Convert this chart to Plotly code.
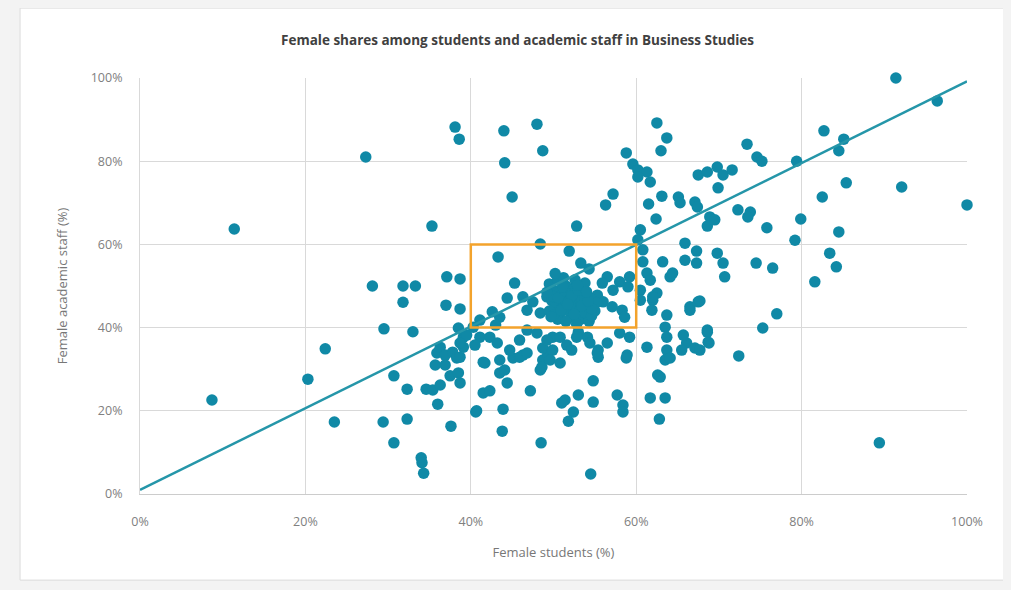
import plotly.graph_objects as go

# Female students (%) and Female academic staff (%) per institution
students = [
    8.7, 11.4, 20.3, 22.4, 23.5, 27.3, 28.1, 29.5, 29.4, 30.7, 30.7, 31.8, 31.8, 32.3, 32.3, 33.3, 33.0, 34.0, 34.1, 34.3, 34.6, 35.3,
    35.7, 35.4, 35.9, 36.3, 36.9, 36.3, 36.0, 37.6, 37.1, 38.7, 37.0, 38.7, 38.5, 39.1, 39.1, 37.8, 38.3, 37.5, 38.5, 38.7, 38.7, 38.1, 38.6, 39.5, 38.7, 36.9,
    44.0, 48.0, 48.7, 44.1, 45.0, 52.8, 43.3, 48.4, 45.3, 44.4, 46.3, 46.8, 47.5, 48.4, 49.2, 42.6, 43.5, 41.1, 42.3, 43.2, 45.9, 46.8, 48.0,
    41.7, 41.5, 42.3, 40.6, 43.9, 43.8, 47.2, 48.5, 43.5, 44.4, 45.1, 46.3, 48.4, 48.7, 41.5, 43.5, 44.1, 44.7, 45.9, 46.8, 48.6, 49.3, 48.7,
    40.7, 40.5, 40.3, 41.1, 43.0,
    49.9, 50.8, 51.6, 52.2, 53.0, 54.1, 54.4, 55.4, 55.4, 49.2, 52.8, 49.9, 55.3, 56.5, 58.0, 59.2, 58.9, 58.8, 54.8, 53.0, 51.4, 51.0, 52.4,
    51.8, 54.8, 57.7, 58.4, 58.4, 54.5, 49.6, 50.8, 51.9, 53.3, 54.3, 57.2, 56.3, 58.8, 58.0, 57.2, 56.5, 55.9, 55.3, 56.0, 57.1, 58.3, 58.6,
    59.2, 59.0, 53.8, 60.5, 60.8, 60.8, 61.3, 61.7, 60.5, 60.5, 62.0, 62.5, 61.9, 61.3, 60.2,
    49.5, 50.0, 50.5, 51.0, 51.5, 52.0, 52.5, 53.0, 53.5, 54.0, 49.8, 50.3, 50.8, 51.3, 51.8, 52.3, 52.8, 53.3, 53.8, 54.3, 50.0, 51.2, 52.6,
    49.5, 50.5, 51.5, 52.0, 53.2, 54.5, 55.0, 49.2, 51.0, 52.8, 54.6, 50.2, 55.2,
    50.6, 51.4, 52.2, 53.0, 53.8, 54.6, 50.0, 50.9, 51.7, 52.5, 53.4, 54.2, 49.7, 51.1, 52.9, 54.0,
    62.5, 63.7, 63.0, 59.6, 60.2, 61.3, 60.2, 61.7, 63.1, 61.5, 62.4, 63.2, 65.9, 67.3, 65.9, 67.3, 65.1, 65.3, 67.1, 67.4, 67.5, 68.6, 69.8,
    69.9, 68.9, 68.6, 69.5, 69.8, 66.5, 67.5, 68.6, 66.1, 67.1, 64.1, 64.4, 63.7, 63.5, 63.7, 63.7, 63.5, 64.1, 65.7, 65.5, 68.6, 68.7, 66.5,
    62.6, 62.9, 61.7, 63.5, 62.8, 62.0, 67.7, 68.8, 67.7, 70.5, 71.6, 70.5, 70.7,
    91.4, 96.4, 82.7, 85.1, 84.5, 73.4, 74.6, 75.2, 79.4, 85.4, 92.1, 82.5, 100.0, 79.9, 79.2, 84.5, 83.4, 84.2, 75.8, 72.3, 73.8, 73.5,
    74.5, 76.5, 81.6, 77.0, 75.3, 72.4, 89.4,
]
staff = [
    22.6, 63.7, 27.6, 34.9, 17.3, 81.0, 50.0, 39.7, 17.3, 28.4, 12.3, 50.0, 46.1, 25.2, 18.0, 50.0, 39.0, 8.7, 7.5, 5.0, 25.2, 64.4,
    31.0, 25.0, 33.9, 35.3, 33.4, 26.2, 21.6, 16.3, 52.2, 51.7, 45.4, 44.5, 39.9, 37.7, 35.3, 34.1, 32.7, 28.4, 29.1, 26.7, 32.9, 88.2, 85.3, 38.2, 36.3, 31.0,
    87.3, 88.9, 82.5, 79.6, 71.4, 64.4, 57.0, 60.1, 50.7, 47.1, 47.4, 44.2, 46.2, 43.5, 47.4, 43.8, 42.5, 37.7, 37.7, 36.3, 37.0, 39.4, 38.7,
    31.5, 24.3, 24.8, 19.7, 20.4, 15.1, 24.8, 12.3, 29.1, 26.7, 32.7, 33.4, 29.8, 32.2, 31.7, 32.2, 29.8, 34.6, 32.9, 33.9, 30.5, 33.4, 35.1,
    20.0, 35.8, 40.1, 41.8, 40.6,
    37.7, 37.7, 35.8, 34.6, 38.9, 37.7, 36.3, 34.6, 32.9, 37.0, 37.7, 34.6, 33.9, 36.3, 38.7, 37.7, 33.4, 32.7, 27.2, 23.8, 22.6, 21.9, 19.7,
    17.5, 22.1, 23.8, 21.4, 19.7, 4.8, 32.2, 31.5, 58.4, 55.5, 54.1, 72.1, 69.5, 82.0, 51.0, 49.0, 52.2, 50.7, 47.8, 46.2, 45.0, 44.2, 42.5,
    52.2, 49.8, 50.7, 63.5, 58.7, 55.8, 53.1, 51.4, 49.0, 46.6, 46.6, 48.3, 44.2, 35.3, 61.1,
    50.5, 49.0, 51.5, 48.0, 50.0, 47.0, 49.5, 46.0, 48.0, 45.0, 46.5, 45.0, 43.5, 46.0, 44.0, 42.5, 44.5, 42.0, 43.5, 41.5, 47.5, 52.0, 51.5,
    44.0, 42.0, 41.5, 45.5, 47.5, 47.0, 44.0, 48.5, 44.5, 40.8, 42.8, 53.0, 46.0,
    47.2, 48.8, 47.6, 49.0, 46.8, 44.6, 43.0, 44.2, 45.6, 43.2, 45.2, 46.4, 42.6, 49.8, 50.2, 48.6,
    89.2, 85.6, 82.5, 79.3, 77.9, 77.4, 76.2, 75.0, 71.6, 69.7, 66.1, 55.8, 60.3, 58.4, 56.2, 55.5, 71.4, 70.0, 70.2, 69.0, 76.7, 77.4, 78.6,
    73.6, 66.6, 64.4, 65.9, 57.9, 45.0, 46.2, 39.4, 36.3, 35.1, 52.2, 53.1, 43.0, 40.1, 37.7, 34.6, 32.2, 32.7, 38.2, 34.6, 38.9, 36.5, 44.2,
    28.6, 28.1, 23.1, 23.1, 18.0, 47.4, 46.4, 36.3, 34.6, 76.7, 77.9, 55.5, 52.2,
    100.0, 94.5, 87.3, 85.3, 82.5, 84.1, 81.0, 80.0, 80.0, 74.8, 73.8, 71.4, 69.5, 66.1, 61.0, 63.0, 57.9, 54.6, 64.0, 68.3, 67.8, 66.6,
    55.5, 54.3, 51.0, 43.3, 39.9, 33.2, 12.3,
]

# Trend line end points (%)
trend_x = [0, 100]
trend_y = [1.0, 99.2]

# Highlighted range (%)
box_x = [40, 60]
box_y = [40, 60]

tick_vals = [0, 20, 40, 60, 80, 100]
tick_text = ["0%", "20%", "40%", "60%", "80%", "100%"]

TEAL = "#1089a6"
LINE = "#2596a9"
ORANGE = "#f3a32c"
FONT = "Open Sans"
PAGE_BG = "#f3f3f3"

fig = go.Figure()
fig.add_trace(go.Scatter(
    x=students, y=staff, mode="markers",
    marker=dict(color=TEAL, size=11.5, line=dict(width=0)),
    cliponaxis=False, showlegend=False,
))
fig.add_trace(go.Scatter(
    x=trend_x, y=trend_y, mode="lines",
    line=dict(color=LINE, width=2.5),
    cliponaxis=False, showlegend=False,
))

shapes = [
    # card background
    dict(type="rect", xref="paper", yref="paper", x0=-0.145, x1=1.07, y0=-0.207, y1=1.168,
         fillcolor="white", line=dict(color="#dcdcdc", width=1), layer="below"),
    # highlight box
    dict(type="rect", xref="x", yref="y", x0=box_x[0], x1=box_x[1], y0=box_y[0], y1=box_y[1],
         line=dict(color=ORANGE, width=2.5), fillcolor="rgba(0,0,0,0)", layer="above"),
]

fig.update_layout(
    width=1003, height=582,
    margin=dict(l=132, r=44, t=70, b=96),
    paper_bgcolor=PAGE_BG, plot_bgcolor="white",
    font=dict(family=FONT, color="#777777", size=12),
    shapes=shapes,
    annotations=[
        dict(text="<b>Female shares among students and academic staff in Business Studies</b>",
             xref="paper", yref="paper", x=0.457, y=(494 - 40) / 416, xanchor="center", yanchor="middle",
             showarrow=False, font=dict(family=FONT, size=13.5, color="#404040")),
    ],
    xaxis=dict(
        range=[0, 100], tickvals=tick_vals, ticktext=tick_text,
        showgrid=True, gridcolor="#d9d9d9", gridwidth=1,
        zeroline=False, showline=True, linecolor="#cccccc", linewidth=1, mirror=False,
        ticks="", ticklabelstandoff=16,
        title=dict(text="Female students (%)", font=dict(family=FONT, size=13, color="#777777"), standoff=18),
        tickfont=dict(family=FONT, size=12.5, color="#808080"),
    ),
    yaxis=dict(
        range=[0, 100], tickvals=tick_vals, ticktext=tick_text,
        showgrid=True, gridcolor="#d9d9d9", gridwidth=1,
        zeroline=False, showline=True, linecolor="#d9d9d9", linewidth=1,
        ticks="", ticklabelstandoff=14,
        title=dict(text="Female academic staff (%)", font=dict(family=FONT, size=13, color="#777777"), standoff=20),
        tickfont=dict(family=FONT, size=12.5, color="#808080"),
    ),
)

fig.write_html("out.html", post_script="document.body.style.backgroundColor='%s';" % PAGE_BG)
